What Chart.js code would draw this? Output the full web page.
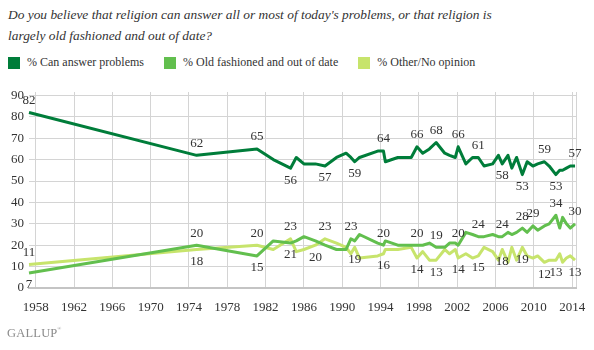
<!DOCTYPE html>
<html>
<head>
<meta charset="utf-8">
<script src="https://cdn.jsdelivr.net/npm/chart.js@4"></script>
<style>
  body { margin: 0; background: #fff; }
  #wrap { position: relative; width: 594px; height: 350px; font-family: 'Liberation Serif', serif; color: #333; }
  #title { position: absolute; left: 8px; top: 4px; font-style: italic; font-size: 13.4px; line-height: 21px; white-space: nowrap; }
  #legend { position: absolute; left: 8px; top: 55px; font-size: 12px; display: flex; white-space: nowrap; }
  .item { display: flex; align-items: center; margin-right: 20px; }
  .sw { width: 12px; height: 12px; margin-right: 7px; }
  #brand { position: absolute; left: 7px; top: 326px; color: #8a8a8a; font-family: 'Liberation Serif', serif; font-size: 12.5px; letter-spacing: 0.2px; }
  #brand sup { font-size: 5px; vertical-align: 7px; }
  canvas { position: absolute; left: 0; top: 0; }
</style>
</head>
<body>
<div id="wrap">
  <div id="title">Do you believe that religion can answer all or most of today's problems, or that religion is<br>largely old fashioned and out of date?</div>
  <div id="legend"></div>
  <canvas id="chart" width="594" height="350"></canvas>
  <div id="brand">GALLUP<sup>®</sup></div>
</div>
<script>
// poll dates (decimal years)
const dates = [1957.3, 1974.8, 1981.1, 1982.8, 1984.6, 1985.2, 1986.0, 1987.2, 1988.2, 1989.4,
  1990.4, 1990.9, 1991.3, 1991.8, 1993.7, 1994.3, 1994.5, 1995.8, 1997.2, 1997.8,
  1998.4, 1999.1, 1999.8, 2000.7, 2001.2, 2001.8, 2002.1, 2002.9, 2003.6, 2004.2,
  2004.8, 2005.7, 2006.3, 2006.7, 2007.3, 2007.7, 2008.2, 2008.8, 2009.3, 2009.9,
  2010.4, 2011.1, 2011.6, 2012.3, 2012.7, 2013.0, 2013.4, 2013.8, 2014.3]

const canAnswer = [82, 62, 65, 60, 56, 61, 58, 58, 57, 61,
  63, 61, 59, 61, 64, 64, 59, 61, 61, 66,
  63, 65, 68, 63, 62, 61, 66, 58, 61, 61,
  57, 58, 62, 58, 62, 56, 61, 53, 59, 57,
  58, 59, 57, 53, 55, 55, 56, 57, 57]

const oldFashioned = [7, 20, 15, 22, 21, 22, 24, 22, 20, 18,
  18, 23, 22, 25, 21, 20, 22, 20, 20, 20,
  20, 21, 19, 19, 21, 21, 20, 26, 25, 24,
  24, 25, 24, 24, 26, 25, 26, 28, 26, 29,
  27, 29, 30, 34, 28, 33, 30, 28, 30]

const noOpinion = [11, 18, 20, 18, 23, 17, 18, 20, 23, 21,
  19, 16, 19, 14, 15, 16, 18, 18, 19, 14,
  17, 13, 13, 18, 16, 18, 14, 16, 14, 15,
  19, 17, 13, 18, 12, 19, 13, 19, 15, 14,
  15, 12, 13, 13, 16, 12, 14, 15, 13]

// which points carry a value label
const canAbove = [0, 1, 2, 15, 19, 22, 26, 29, 41, 48]
const canBelow = [4, 8, 12, 33, 37, 43]
const oldAbove = [1, 11, 15, 19, 22, 26, 29, 33, 37, 39, 43, 48]
const oldBelow = [0, 2, 4]
const otherAbove = [0, 2, 4, 8]
const otherBelow = [1, 7, 12, 15, 19, 22, 26, 29, 33, 37, 41, 43, 48]

const xTicks = [1958, 1962, 1966, 1970, 1974, 1978, 1982, 1986, 1990, 1994, 1998, 2002, 2006, 2010, 2014]
const yTicks = [0, 10, 20, 30, 40, 50, 60, 70, 80, 90]

const series = [
  { label: '% Can answer problems', values: canAnswer, color: '#007d3a', above: canAbove, below: canBelow },
  { label: '% Old fashioned and out of date', values: oldFashioned, color: '#62bf4e', above: oldAbove, below: oldBelow },
  { label: '% Other/No opinion', values: noOpinion, color: '#c7e46c', above: otherAbove, below: otherBelow }
]

const legend = document.getElementById('legend')
series.forEach(s => {
  const item = document.createElement('div')
  item.className = 'item'
  item.innerHTML = '<span class="sw" style="background:' + s.color + '"></span>' + s.label
  legend.appendChild(item)
})

const font = { family: "'Liberation Serif', serif", size: 13 }
const xMax = 2014.4

const valueLabels = {
  id: 'valueLabels',
  afterDatasetsDraw(chart) {
    const ctx = chart.ctx
    ctx.save()
    ctx.font = font.size + 'px ' + font.family
    ctx.fillStyle = '#333'
    ctx.textAlign = 'center'
    ctx.textBaseline = 'middle'
    series.forEach((s, di) => {
      const pts = chart.getDatasetMeta(di).data
      s.above.forEach(i => ctx.fillText(s.values[i], pts[i].x, pts[i].y - 12))
      s.below.forEach(i => ctx.fillText(s.values[i], pts[i].x, pts[i].y + 12))
    })
    ctx.restore()
  }
}

new Chart(document.getElementById('chart'), {
  type: 'line',
  data: {
    datasets: series.map(s => ({
      label: s.label,
      data: dates.map((d, i) => ({ x: d, y: s.values[i] })),
      borderColor: s.color,
      backgroundColor: s.color,
      borderWidth: 3,
      borderJoinStyle: 'round',
      pointRadius: 0,
      tension: 0,
      clip: false
    }))
  },
  options: {
    responsive: false,
    animation: false,
    events: [],
    layout: { padding: { top: 92, left: 0, right: 18, bottom: 32 } },
    plugins: { legend: { display: false }, tooltip: { enabled: false } },
    scales: {
      x: {
        type: 'linear',
        min: dates[0],
        max: xMax,
        afterBuildTicks: s => { s.ticks = xTicks.concat([xMax]).map(v => ({ value: v })) },
        afterFit: s => { s.height = 30 },
        grid: { color: '#d4d4d4', drawTicks: false },
        border: { color: '#c4c4c4', width: 2 },
        ticks: {
          autoSkip: false, maxRotation: 0, padding: 12, color: '#333', font: font,
          callback: v => xTicks.includes(v) ? String(v) : ''
        }
      },
      y: {
        min: 0,
        max: 91.6,
        afterBuildTicks: s => { s.ticks = yTicks.map(v => ({ value: v })) },
        afterFit: s => { s.width = 29 },
        grid: { color: '#d4d4d4', drawTicks: false },
        border: { display: false },
        ticks: { padding: 5, color: '#333', font: font }
      }
    }
  },
  plugins: [valueLabels]
})
</script>
</body>
</html>
